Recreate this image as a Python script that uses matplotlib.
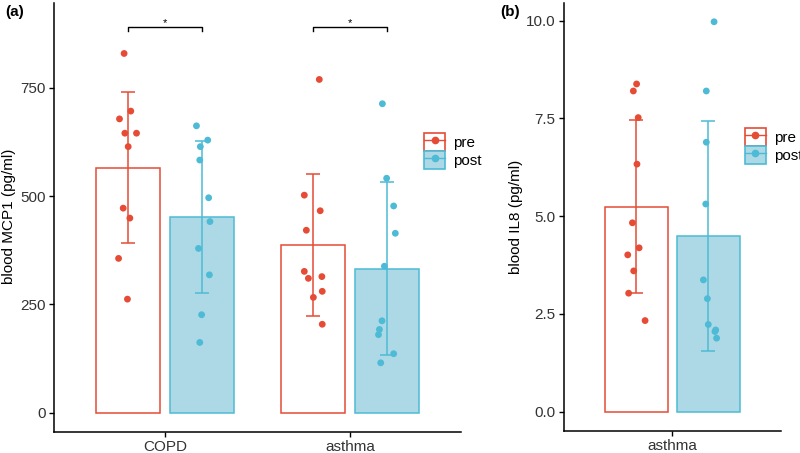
import numpy as np
import matplotlib
matplotlib.use("Agg")
import matplotlib.pyplot as plt
from matplotlib.patches import Patch
from matplotlib.lines import Line2D

plt.rcParams["font.family"] = ["Liberation Sans", "DejaVu Sans"]

# Panel (a): blood MCP1
groups_a = ["COPD", "asthma"]
copd_pre = [829, 696, 678, 645, 645, 614, 472, 449, 356, 262]
copd_post = [662, 629, 614, 583, 496, 441, 379, 318, 226, 162]
asthma_pre = [769, 502, 466, 421, 326, 314, 310, 280, 266, 204]
asthma_post = [713, 541, 477, 414, 338, 212, 192, 180, 136, 115]
mean_a_pre = [565, 386]
mean_a_post = [451, 332]
sd_a_pre = [174, 164]
sd_a_post = [176, 200]

# jitter (category units)
copd_pre_jit = [-0.021, 0.015, -0.046, -0.017, 0.046, 0.001, -0.026, 0.010, -0.051, -0.003]
copd_post_jit = [-0.030, 0.031, -0.009, -0.012, 0.036, 0.043, -0.019, 0.040, -0.002, -0.012]
asthma_pre_jit = [0.034, -0.047, 0.039, -0.036, -0.047, 0.048, -0.025, 0.050, 0.002, 0.050]
asthma_post_jit = [-0.025, -0.002, 0.036, 0.045, -0.014, -0.027, -0.041, -0.046, 0.036, -0.034]

# Panel (b): blood IL8
groups_b = ["asthma"]
il8_pre = [8.38, 8.20, 7.52, 6.33, 4.83, 4.19, 4.01, 3.60, 3.03, 2.33]
il8_post = [9.97, 8.20, 6.89, 5.31, 3.37, 2.89, 2.23, 2.09, 2.05, 1.88]
mean_b_pre = [5.24]
mean_b_post = [4.49]
sd_b_pre = [2.21]
sd_b_post = [2.94]
il8_pre_jit = [0.002, -0.016, 0.011, 0.004, -0.021, 0.016, -0.047, -0.014, -0.042, 0.049]
il8_post_jit = [0.031, -0.012, -0.012, -0.015, -0.028, -0.006, -0.001, 0.040, 0.036, 0.045]

RED = "#E64B35"
BLUE = "#4DBBD5"
LIGHT = "#ADD8E6"
FS = 11

W, H = 800, 453
fig = plt.figure(figsize=(8, 4.53), dpi=100)


def px_axes(x0, x1, y_top, y_bot):
    return fig.add_axes([x0 / W, 1 - y_bot / H, (x1 - x0) / W, (y_bot - y_top) / H])


def style(ax):
    for s in ["top", "right"]:
        ax.spines[s].set_visible(False)
    for s in ["left", "bottom"]:
        ax.spines[s].set_linewidth(1.1)
        ax.spines[s].set_color("black")
    ax.tick_params(length=3.5, width=1.0, color="black", labelsize=FS,
                   labelcolor="#333333", pad=2.5)


def draw_group(ax, xc, mean, sd, pts, jit, fill, edge):
    ax.bar(xc, mean, width=0.35, color=fill, edgecolor=edge, linewidth=1.1, zorder=1)
    ax.errorbar(xc, mean, yerr=sd, fmt="none", ecolor=edge, elinewidth=1.1,
                capsize=5, capthick=1.1, zorder=2)
    ax.scatter(xc + np.array(jit), pts, s=24, color=edge, edgecolor="none", zorder=3)


def legend(ax, x, y):
    h_pre = (Patch(facecolor="white", edgecolor=RED, linewidth=1.2),
             Line2D([], [], color=RED, lw=1.0, marker="o", markersize=4.5))
    h_post = (Patch(facecolor=LIGHT, edgecolor=BLUE, linewidth=1.2),
              Line2D([], [], color=BLUE, lw=1.0, marker="o", markersize=4.5))
    ax.legend([h_pre, h_post], ["pre", "post"], loc="upper left",
              bbox_to_anchor=(x / W, 1 - y / H), bbox_transform=fig.transFigure,
              frameon=False, fontsize=FS, handlelength=1.37, handleheight=1.37,
              labelspacing=0.05, handletextpad=0.5, borderpad=0, borderaxespad=0)


# ---- panel a
ax1 = px_axes(54, 461, 3, 431.7)
style(ax1)
xa = np.arange(1, len(groups_a) + 1)
pre_a = [copd_pre, asthma_pre]
post_a = [copd_post, asthma_post]
pre_a_j = [copd_pre_jit, asthma_pre_jit]
post_a_j = [copd_post_jit, asthma_post_jit]
for i, x in enumerate(xa):
    draw_group(ax1, x - 0.2, mean_a_pre[i], sd_a_pre[i], pre_a[i], pre_a_j[i], "white", RED)
    draw_group(ax1, x + 0.2, mean_a_post[i], sd_a_post[i], post_a[i], post_a_j[i], LIGHT, BLUE)
    # significance bracket
    yb = 891
    ax1.plot([x - 0.2, x - 0.2, x + 0.2, x + 0.2], [yb - 11, yb, yb, yb - 11],
             color="black", lw=1.0, zorder=4)
    ax1.text(x, yb + 2, "*", ha="center", va="baseline", fontsize=8, color="black")
ax1.set_xlim(0.4, 2.6)
ax1.set_ylim(-44, 945.5)
ax1.set_xticks(xa)
ax1.set_xticklabels(groups_a)
ax1.set_yticks([0, 250, 500, 750])
legend(ax1, 424.3, 133.3)

# ---- panel b
ax2 = px_axes(564, 780.7, 3, 430.7)
style(ax2)
xb = np.arange(1, len(groups_b) + 1)
draw_group(ax2, xb[0] - 0.2, mean_b_pre[0], sd_b_pre[0], il8_pre, il8_pre_jit, "white", RED)
draw_group(ax2, xb[0] + 0.2, mean_b_post[0], sd_b_post[0], il8_post, il8_post_jit, LIGHT, BLUE)
ax2.set_xlim(0.4, 1.6)
ax2.set_ylim(-0.486, 10.45)
ax2.set_xticks(xb)
ax2.set_xticklabels(groups_b)
ax2.set_yticks([0, 2.5, 5, 7.5, 10])
ax2.set_yticklabels(["0.0", "2.5", "5.0", "7.5", "10.0"])
legend(ax2, 745, 128.3)

# axis titles and panel tags
fig.text(9.5 / W, 1 - 216 / H, "blood MCP1 (pg/ml)", rotation=90, ha="center",
         va="center", fontsize=FS, color="black")
fig.text(516 / W, 1 - 216.5 / H, "blood IL8 (pg/ml)", rotation=90, ha="center",
         va="center", fontsize=FS, color="black")
fig.text(15 / W, 1 - 12 / H, "(a)", ha="center", va="center", fontsize=FS,
         fontweight="bold")
fig.text(510 / W, 1 - 12 / H, "(b)", ha="center", va="center", fontsize=FS,
         fontweight="bold")

fig.savefig("out.png", dpi=100)
